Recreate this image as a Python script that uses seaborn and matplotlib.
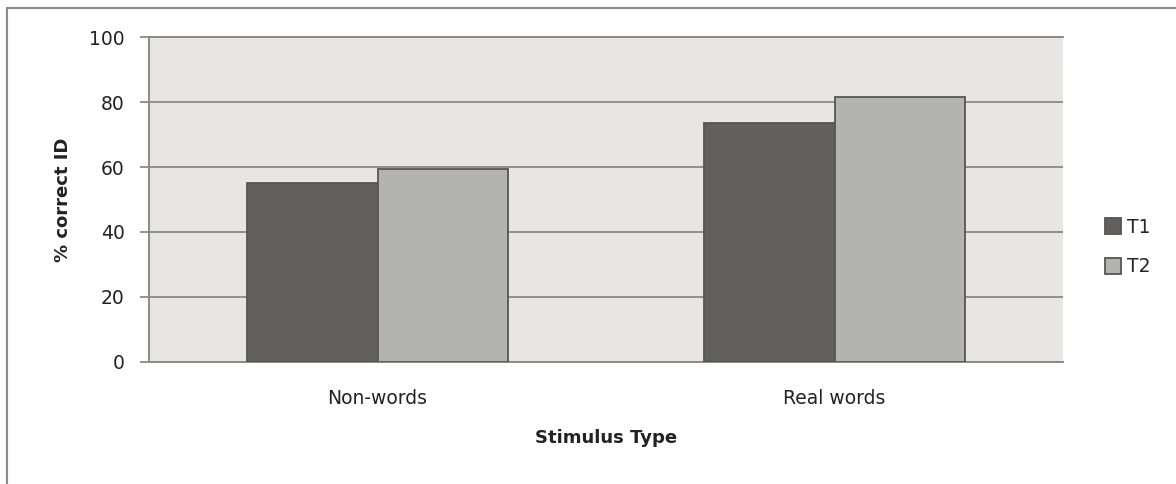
import matplotlib
matplotlib.use("Agg")
import matplotlib.pyplot as plt
import matplotlib.patches as mpatches
import seaborn as sns
import pandas as pd

categories = ["Non-words", "Real words"]
t1_values = [55.1, 73.5]
t2_values = [59.4, 81.5]
series = ["T1", "T2"]
y_ticks = [0, 20, 40, 60, 80, 100]

colors = {"T1": "#61605e", "T2": "#b3b3b2"}

df = pd.DataFrame({
    "Stimulus Type": categories * 2,
    "% correct ID": t1_values + t2_values,
    "Session": ["T1"] * len(categories) + ["T2"] * len(categories),
})

sns.set_style("white")
plt.rcParams["font.family"] = ["DejaVu Sans"]

fig = plt.figure(figsize=(11.76, 4.84), dpi=100)
ax = fig.add_axes([149 / 1176, 1 - 361.7 / 484, (1063 - 149) / 1176, (361.7 - 37.3) / 484])
ax.set_facecolor("#e7e6e5")

sns.barplot(data=df, x="Stimulus Type", y="% correct ID", hue="Session",
            palette=colors, width=0.571, gap=0, edgecolor="#555555",
            linewidth=1.3, ax=ax, legend=False, zorder=3)

ax.set_ylim(0, 100)
ax.set_xlim(-0.5, 1.5)
ax.set_yticks(y_ticks)
ax.yaxis.grid(True, color="#8a8a8a", linewidth=1.3, zorder=0)
ax.set_axisbelow(True)
ax.spines["right"].set_visible(False)
for side in ["left", "bottom", "top"]:
    ax.spines[side].set_color("#8a8a8a")
    ax.spines[side].set_linewidth(1.4)

ax.tick_params(axis="y", length=6.5, width=1.3, color="#8a8a8a", pad=11,
               labelsize=13.5, labelcolor="#222222", left=True)
ax.tick_params(axis="x", length=0, pad=20, labelsize=13.5, labelcolor="#222222")

ax.set_xlabel("Stimulus Type", fontsize=13, fontweight="bold", labelpad=15, color="#222222")
ax.set_ylabel("% correct ID", fontsize=13, fontweight="bold", labelpad=12, color="#222222")

handles = [mpatches.Patch(facecolor=colors[s], edgecolor="#555555", linewidth=1.3, label=s)
           for s in series]
fig.legend(handles=handles, loc="center left", bbox_to_anchor=(1097 / 1176, 1 - 247 / 484),
           frameon=False, fontsize=13.5, handlelength=0.9, handleheight=0.9,
           handletextpad=0.3, labelspacing=1.1, borderaxespad=0)

# outer chart frame
fig.add_artist(plt.Line2D([7 / 1176, 7 / 1176], [0, 1 - 8 / 484], transform=fig.transFigure,
                          color="#8a8a8a", linewidth=1.5))
fig.add_artist(plt.Line2D([7 / 1176, 1], [1 - 8 / 484, 1 - 8 / 484], transform=fig.transFigure,
                          color="#8a8a8a", linewidth=1.5))

fig.savefig("out.png", dpi=100, facecolor="white")
